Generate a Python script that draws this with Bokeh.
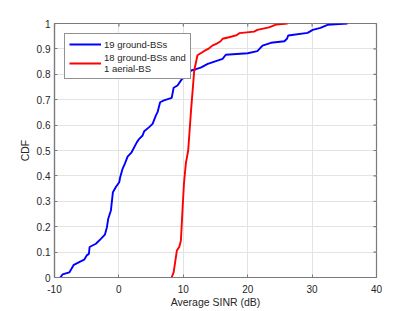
from bokeh.plotting import figure
from bokeh.models import LinearAxis, FixedTicker, Range1d, Legend, LegendItem
from bokeh.embed import file_html
from bokeh.resources import INLINE

# Data
blue_x = [-9.1, -8.75, -7.7, -7.0, -5.4, -5.0, -4.66, -4.55, -3.57, -2.8, -2.17, -1.86, -1.66,
          -1.24, -0.93, -0.47, 0.05, 0.2, 0.57, 0.93, 1.35, 1.97, 2.8, 3.16, 3.68, 3.93, 4.7,
          5.23, 5.75, 6.0, 6.4, 7.0, 8.2, 8.5, 9.1, 9.8, 10.7, 11.2, 11.96, 12.7, 13.8, 16.1,
          16.6, 20.0, 21.5, 22.3, 23.6, 25.7, 26.1, 26.3, 29.3, 30.1, 31.3, 32.4, 35.5]
blue_y = [0.0, 0.012, 0.02, 0.05, 0.07, 0.087, 0.093, 0.12, 0.133, 0.152, 0.169, 0.198, 0.231,
          0.264, 0.336, 0.356, 0.375, 0.395, 0.428, 0.448, 0.476, 0.493, 0.533, 0.546, 0.559,
          0.576, 0.592, 0.605, 0.638, 0.651, 0.69, 0.697, 0.707, 0.747, 0.756, 0.782, 0.795,
          0.815, 0.82, 0.826, 0.841, 0.861, 0.877, 0.883, 0.891, 0.913, 0.924, 0.93, 0.94,
          0.953, 0.963, 0.975, 0.983, 0.995, 1.0]

red_x = [8.18, 8.5, 9.0, 9.37, 9.63, 9.9, 10.1, 10.4, 10.76, 11.2, 11.7, 12.2, 13.2, 14.0,
         14.5, 15.2, 15.8, 16.1, 17.1, 18.2, 18.7, 21.0, 21.5, 23.3, 23.6, 24.4, 26.2]
red_y = [0.0, 0.02, 0.106, 0.12, 0.146, 0.277, 0.369, 0.45, 0.5, 0.657, 0.815, 0.875, 0.891,
         0.902, 0.913, 0.921, 0.93, 0.94, 0.946, 0.953, 0.962, 0.968, 0.975, 0.985, 0.988,
         0.996, 1.0]

series_labels = ["19 ground-BSs", "18 ground-BSs and\n1 aerial-BS"]
x_ticks = [-10, 0, 10, 20, 30, 40]
x_tick_labels = ["-10", "0", "10", "20", "30", "40"]
y_ticks = [0, 0.1, 0.2, 0.3, 0.4, 0.5, 0.6, 0.7, 0.8, 0.9, 1]
y_tick_labels = ["0", "0.1", "0.2", "0.3", "0.4", "0.5", "0.6", "0.7", "0.8", "0.9", "1"]
x_label = "Average SINR (dB)"
y_label = "CDF"

FONT = "Liberation Sans"
TXT = "#262626"
AX = "#7a7a7a"

X0, X1, Y0, Y1 = -10, 40, 0, 1

p = figure(width=415, height=311, output_backend="svg", toolbar_location=None,
           x_range=Range1d(X0, X1), y_range=Range1d(Y0, Y1),
           min_border_left=54, min_border_right=39, min_border_top=23, min_border_bottom=34,
           x_axis_location=None, y_axis_location=None)
p.outline_line_color = AX
p.outline_line_width = 1.2
p.background_fill_color = "white"
p.border_fill_color = "white"

def style_axis(ax):
    ax.axis_line_color = AX
    ax.axis_line_width = 1.2
    ax.major_tick_line_color = AX
    ax.major_tick_in = 3
    ax.major_tick_out = 0
    ax.minor_tick_line_color = None
    ax.major_label_text_font = FONT
    ax.major_label_text_color = TXT
    ax.axis_label_text_font = FONT
    ax.axis_label_text_color = TXT
    ax.axis_label_text_font_style = "normal"

xa = LinearAxis(ticker=FixedTicker(ticks=x_ticks), axis_label=x_label)
xa.major_label_overrides = {t: l for t, l in zip(x_ticks, x_tick_labels)}
style_axis(xa)
xa.major_label_text_font_size = "10px"
xa.axis_label_text_font_size = "10.5px"
xa.major_label_standoff = 7
xa.axis_label_standoff = 0
p.add_layout(xa, "below")

ya = LinearAxis(ticker=FixedTicker(ticks=y_ticks), axis_label=y_label)
ya.major_label_overrides = {t: l for t, l in zip(y_ticks, y_tick_labels)}
style_axis(ya)
ya.major_label_text_font_size = "10px"
ya.axis_label_text_font_size = "10.5px"
ya.major_label_standoff = 4
ya.axis_label_standoff = 3
p.add_layout(ya, "left")

# inward tick marks on the top and right edges of the box
tick_dy = 3.0 / 254 * (Y1 - Y0)
tick_dx = 3.0 / 322 * (X1 - X0)
p.segment(x0=x_ticks, y0=[Y1] * len(x_ticks), x1=x_ticks, y1=[Y1 - tick_dy] * len(x_ticks),
          line_color=AX, line_width=1.2)
p.segment(x0=[X1] * len(y_ticks), y0=y_ticks, x1=[X1 - tick_dx] * len(y_ticks), y1=y_ticks,
          line_color=AX, line_width=1.2)

p.xgrid.ticker = FixedTicker(ticks=x_ticks)
p.ygrid.ticker = FixedTicker(ticks=y_ticks)
for g in (p.xgrid, p.ygrid):
    g.grid_line_color = "#e3e3e3"
    g.grid_line_width = 1

r1 = p.line(blue_x, blue_y, line_color="#0000ff", line_width=1.9)
r2 = p.line(red_x, red_y, line_color="#ff0000", line_width=1.9)

legend = Legend(items=[LegendItem(label=series_labels[0], renderers=[r1]),
                       LegendItem(label=series_labels[1], renderers=[r2])],
                location="top_left")
legend.margin = 10
legend.padding = 4
legend.spacing = 2
legend.glyph_width = 32
legend.glyph_height = 12
legend.label_height = 12
legend.label_standoff = 3
legend.label_text_font = FONT
legend.label_text_font_size = "9.5px"
legend.label_text_color = TXT
legend.border_line_color = "#262626"
legend.border_line_width = 1
legend.background_fill_color = "white"
legend.background_fill_alpha = 1
p.add_layout(legend, "center")

open("out.html", "w").write(file_html(p, INLINE))
